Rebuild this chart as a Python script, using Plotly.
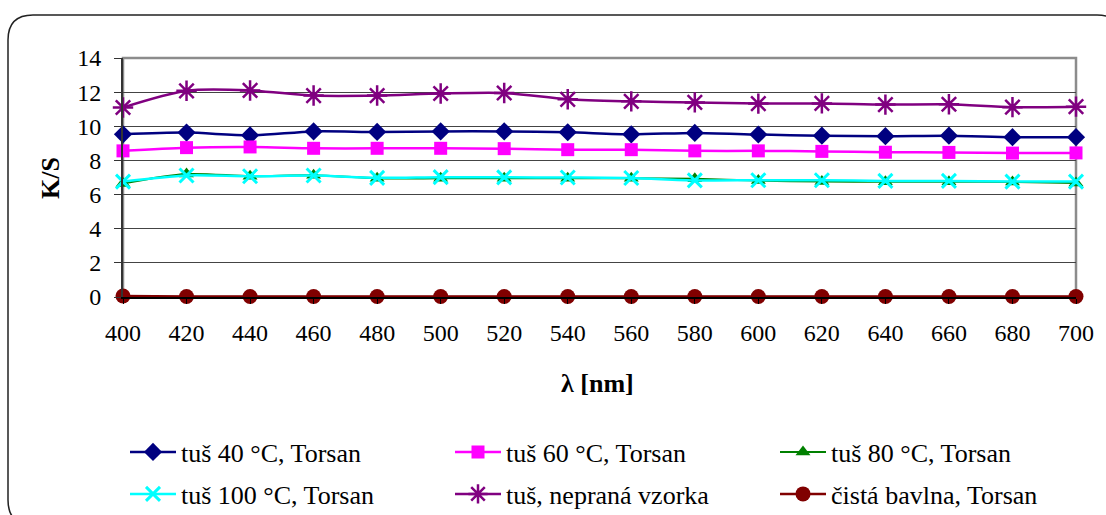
import plotly.graph_objects as go

# Wavelengths (nm)
wavelength = [400, 420, 440, 460, 480, 500, 520, 540, 560, 580, 600, 620, 640, 660, 680, 700]

# K/S values for each sample
ks_40 = [9.53, 9.63, 9.47, 9.70, 9.67, 9.70, 9.70, 9.65, 9.53, 9.61, 9.52, 9.45, 9.42, 9.45, 9.36, 9.36]
ks_60 = [8.56, 8.75, 8.79, 8.71, 8.71, 8.71, 8.69, 8.63, 8.63, 8.56, 8.56, 8.53, 8.48, 8.47, 8.43, 8.44]
ks_80 = [6.65, 7.20, 7.08, 7.13, 6.95, 6.95, 6.96, 6.96, 6.95, 6.92, 6.82, 6.76, 6.75, 6.75, 6.74, 6.68]
ks_100 = [6.76, 7.12, 7.07, 7.12, 6.98, 7.02, 7.01, 7.00, 6.97, 6.83, 6.84, 6.84, 6.80, 6.80, 6.76, 6.76]
ks_neprana = [11.10, 12.08, 12.10, 11.80, 11.80, 11.92, 11.95, 11.58, 11.46, 11.40, 11.33, 11.34, 11.27, 11.29, 11.12, 11.15]
ks_bavlna = [0.06, 0.03, 0.03, 0.03, 0.03, 0.03, 0.03, 0.03, 0.03, 0.03, 0.03, 0.03, 0.03, 0.03, 0.03, 0.03]

names = ["tuš 40 °C, Torsan", "tuš 60 °C, Torsan", "tuš 80 °C, Torsan",
         "tuš 100 °C, Torsan", "tuš, nepraná vzorka", "čistá bavlna, Torsan"]

y_ticks = [0, 2, 4, 6, 8, 10, 12, 14]

FONT = "Liberation Serif"
W, H = 1106, 515
ML, MR, MT, MB = 123, 30, 58, 218
PW, PH = W - ML - MR, H - MT - MB


def px_x(px):
    return (px - ML) / PW


def px_y(py):
    return (H - MB - py) / PH


series = [
    (ks_40, "#000080", dict(symbol="diamond", size=14, color="#000080"), 2.5),
    (ks_60, "#FF00FF", dict(symbol="square", size=13, color="#FF00FF"), 2.5),
    (ks_80, "#008000", dict(symbol="triangle-up", size=13, color="#008000"), 2),
    (ks_100, "#00FFFF", dict(symbol="x-thin-open", size=14, color="#00FFFF",
                             line=dict(width=3, color="#00FFFF")), 2.5),
    (ks_neprana, "#800080", dict(symbol="asterisk-open", size=17, color="#800080",
                                 line=dict(width=2.5, color="#800080")), 2.5),
    (ks_bavlna, "#800000", dict(symbol="circle", size=15, color="#800000"), 2.5),
]

# Legend entries laid out in a 3 x 2 grid (left edge px, row centre px)
legend_cols = [125, 450, 775]
legend_rows = [452, 494]

fig = go.Figure()
legend_layouts = {}
for i, ((vals, col, mk, lw), nm) in enumerate(zip(series, names)):
    key = "legend" if i == 0 else f"legend{i + 1}"
    fig.add_trace(go.Scatter(
        x=wavelength, y=vals, name=nm, mode="lines+markers",
        line=dict(color=col, width=lw, shape="spline", smoothing=0.8),
        marker=mk, legend=key, cliponaxis=False,
    ))
    legend_layouts[key] = dict(
        orientation="h",
        x=px_x(legend_cols[i % 3]), y=px_y(legend_rows[i // 3]),
        xanchor="left", yanchor="middle", itemwidth=46,
        font=dict(family=FONT, size=26), bgcolor="rgba(0,0,0,0)",
        itemclick=False, itemdoubleclick=False,
    )

# Rounded outer frame
x0, x1 = px_x(8), px_x(1122)
y0, y1 = px_y(15), px_y(525)
rx, ry = 25 / PW, 25 / PH
frame = (f"M {x0 + rx},{y0} L {x1 - rx},{y0} Q {x1},{y0} {x1},{y0 - ry} "
         f"L {x1},{y1 + ry} Q {x1},{y1} {x1 - rx},{y1} "
         f"L {x0 + rx},{y1} Q {x0},{y1} {x0},{y1 + ry} "
         f"L {x0},{y0 - ry} Q {x0},{y0} {x0 + rx},{y0} Z")

fig.update_layout(
    width=W, height=H,
    margin=dict(l=ML, r=MR, t=MT, b=MB, autoexpand=False),
    paper_bgcolor="white", plot_bgcolor="white",
    font=dict(family=FONT, size=24, color="black"),
    xaxis=dict(
        range=[400, 700], tickvals=wavelength, ticks="outside", ticklen=5,
        tickcolor="black", showgrid=False, zeroline=False,
        showline=True, linecolor="black", linewidth=2,
        ticklabelstandoff=8, tickfont=dict(family=FONT, size=24),
    ),
    yaxis=dict(
        range=[0, 14], tickvals=y_ticks, ticks="outside", ticklen=7,
        tickcolor="#333333", showgrid=True, gridcolor="#444444", gridwidth=1,
        zeroline=False, showline=True, linecolor="#333333", linewidth=2,
        ticklabelstandoff=8, tickfont=dict(family=FONT, size=24),
    ),
    showlegend=True,
    shapes=[
        dict(type="path", path=frame, xref="paper", yref="paper",
             line=dict(color="#222222", width=1.5), layer="below"),
        dict(type="rect", xref="paper", yref="paper", x0=0, x1=1, y0=0, y1=1,
             line=dict(color="#8c8c8c", width=2.5), layer="below"),
    ],
    annotations=[
        dict(text="<b>K/S</b>", x=px_x(50), y=px_y(178), xref="paper", yref="paper",
             xanchor="center", yanchor="middle",
             textangle=-90, showarrow=False, font=dict(family=FONT, size=26)),
        dict(text="<b>λ [nm]</b>", x=px_x(597), y=px_y(383), xref="paper", yref="paper",
             xanchor="center", yanchor="middle",
             showarrow=False, font=dict(family=FONT, size=26)),
    ],
)
fig.update_layout(**legend_layouts)

fig.write_html("out.html")
